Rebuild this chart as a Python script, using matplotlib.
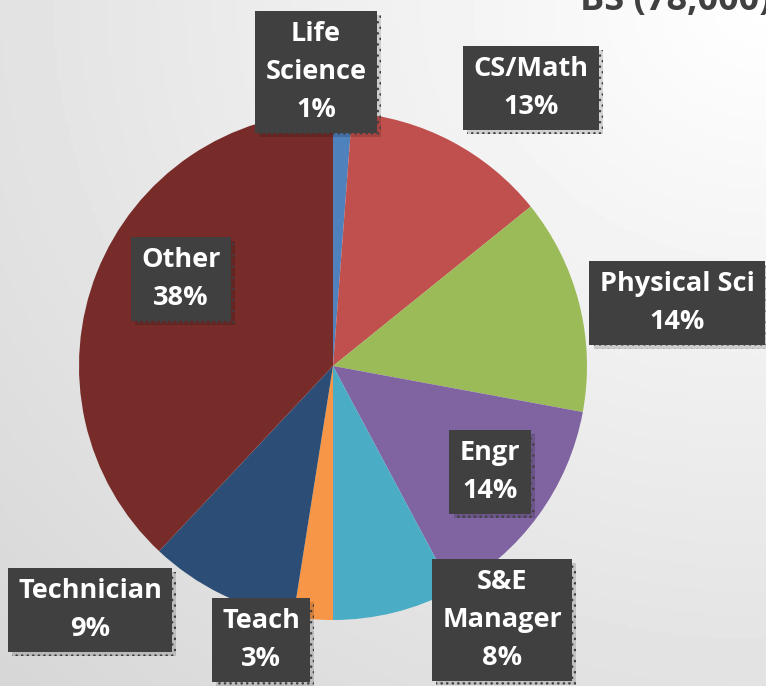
import numpy as np
import matplotlib
matplotlib.use("Agg")
import matplotlib.pyplot as plt
import matplotlib.patheffects as pe

plt.rcParams['font.family'] = ['Open Sans', 'DejaVu Sans']
plt.rcParams['hatch.color'] = '#525252'
plt.rcParams['hatch.linewidth'] = 1.0

categories = ['Life\nScience', 'CS/Math', 'Physical Sci', 'Engr', 'S&E\nManager', 'Teach', 'Technician', 'Other']
shares = [1.2, 13.0, 13.7, 14.3, 7.8, 2.5, 9.5, 38.0]
pct_labels = ['1%', '13%', '14%', '14%', '8%', '3%', '9%', '38%']
title = 'BS (78,000)'

colors = ['#4F81BD', '#C0504D', '#9BBB59', '#8064A2', '#4BACC6', '#F79646', '#2C4D75', '#772C2A']
# label box centres in pixels (x from left, y from top)
label_pos = [(316, 72), (531, 88), (677, 303), (490, 472), (502, 620), (261, 640), (90, 610), (181, 279)]

W, H = 766, 686
fig = plt.figure(figsize=(W / 100, H / 100), dpi=100)

# background gradient, light at top right
bg = fig.add_axes([0, 0, 1, 1])
yy, xx = np.mgrid[0:1:200j, 0:1:200j]
d = np.sqrt((1 - xx) ** 2 + yy ** 2) / np.sqrt(2)
bg.imshow(1 - 0.16 * d, cmap='gray', vmin=0, vmax=1, extent=[0, 1, 0, 1], aspect='auto')
bg.axis('off')

cx, cy, r = 333, 366, 254
ax = fig.add_axes([(cx - r) / W, (H - cy - r) / H, 2 * r / W, 2 * r / H])
ax.pie(shares, colors=colors, startangle=90, counterclock=False, radius=1,
       wedgeprops=dict(linewidth=0))
ax.set_xlim(-1, 1)
ax.set_ylim(-1, 1)
ax.set_aspect('equal')
ax.axis('off')

for cat, pct, (px, py) in zip(categories, pct_labels, label_pos):
    t = fig.text(px / W, 1 - py / H, cat + '\n' + pct, ha='center', va='center',
                 color='white', fontsize=19.5, fontweight='bold', linespacing=1.6,
                 bbox=dict(boxstyle='square,pad=0.38', fc='#404040', ec='#404040',
                           lw=0, hatch='...'), zorder=5)
    t.get_bbox_patch().set_path_effects([
        pe.SimplePatchShadow(offset=(3, -3), shadow_rgbFace='#000000', alpha=0.15),
        pe.Normal()])

fig.text(580 / W, 1 - 10 / H, title, ha='left', va='baseline', color='#404040',
         fontsize=26, fontweight='bold')

fig.savefig('out.png', dpi=100)
